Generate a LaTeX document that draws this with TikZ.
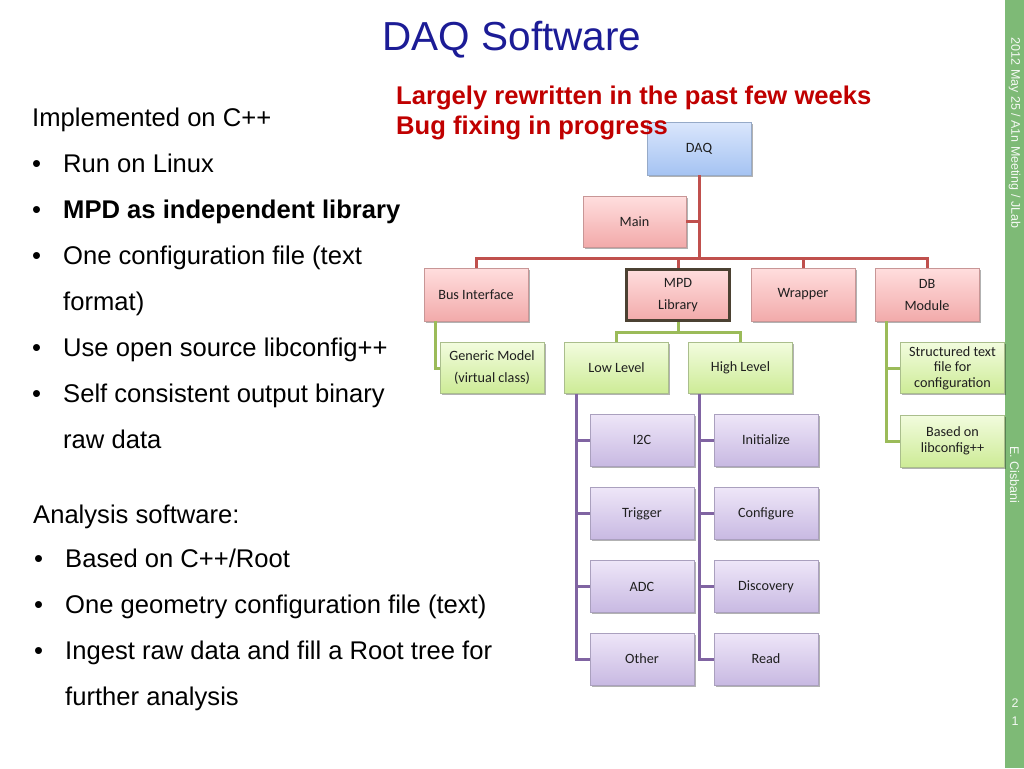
\documentclass[tikz,border=0pt]{standalone}
\usepackage{fontspec}
\setmainfont{Liberation Sans}
\newfontfamily\boxfont{Carlito}
\usetikzlibrary{shadows}
\definecolor{titleblue}{RGB}{28,28,150}
\definecolor{darkred}{RGB}{192,0,0}
\definecolor{sidegreen}{RGB}{126,186,118}
\definecolor{redline}{RGB}{192,80,77}
\definecolor{greenline}{RGB}{155,187,89}
\definecolor{purpleline}{RGB}{128,100,162}
\definecolor{rtop}{RGB}{255,222,222}
\definecolor{rbot}{RGB}{242,170,170}
\definecolor{rdraw}{RGB}{200,150,150}
\definecolor{gtop}{RGB}{242,252,222}
\definecolor{gbot}{RGB}{205,235,150}
\definecolor{gdraw}{RGB}{170,190,140}
\definecolor{ptop}{RGB}{238,230,248}
\definecolor{pbot}{RGB}{200,185,226}
\definecolor{pdraw}{RGB}{170,160,190}
\definecolor{btop}{RGB}{218,230,252}
\definecolor{bbot}{RGB}{165,195,242}
\definecolor{bdraw}{RGB}{150,170,200}
\definecolor{mpddraw}{RGB}{75,65,50}
\tikzset{
  box/.style={rectangle, minimum width=104pt, minimum height=52pt, inner sep=0pt,
    align=center, text=black!88, line width=0.6pt,
    font=\boxfont\fontsize{14.2}{22}\selectfont,
    drop shadow={shadow xshift=1.8pt, shadow yshift=-1.8pt, opacity=0.3, fill=black}},
  redbox/.style={box, top color=rtop, bottom color=rbot, draw=rdraw},
  greenbox/.style={box, top color=gtop, bottom color=gbot, draw=gdraw},
  purplebox/.style={box, top color=ptop, bottom color=pbot, draw=pdraw},
  bluebox/.style={box, top color=btop, bottom color=bbot, draw=bdraw},
  redcon/.style={draw=redline, line width=3pt},
  greencon/.style={draw=greenline, line width=3pt},
  purplecon/.style={draw=purpleline, line width=3pt},
  bodytext/.style={anchor=base west, inner sep=0pt, font=\fontsize{25.6}{30}\selectfont, text=black},
  sidetext/.style={inner sep=0pt, text=white!92!sidegreen, font=\fontsize{12.5}{14}\selectfont}
}
\begin{document}
\begin{tikzpicture}[x=1pt,y=-1pt]
\useasboundingbox (0,0) rectangle (1024,768);
\fill[white] (0,0) rectangle (1024,768);
\fill[sidegreen] (1005,0) rectangle (1024,768);
\node[sidetext, rotate=-90] (side1) at (1014.5,133) {2012 May 25 / A1n Meeting / JLab};
\node[sidetext, rotate=-90] (side2) at (1014.5,475) {E. Cisbani};
\node[sidetext] (pg1) at (1015,703) {2};
\node[sidetext] (pg2) at (1015,721) {1};

% title
\node[anchor=base, inner sep=0pt, text=titleblue, font=\fontsize{40.5}{46}\selectfont] (title) at (512,51) {DAQ Software};

% left text
\node[bodytext] (l0) at (32,126) {Implemented on C++};
\node[bodytext] (b1) at (32,172) {•};
\node[bodytext] (l1) at (63,172) {Run on Linux};
\node[bodytext] (b2) at (32,218) {•};
\node[bodytext] (l2) at (63,218) {\bfseries MPD as independent library};
\node[bodytext] (b3) at (32,264) {•};
\node[bodytext] (l3) at (63,264) {One configuration file (text};
\node[bodytext] (l3b) at (63,310) {format)};
\node[bodytext] (b4) at (32,356) {•};
\node[bodytext] (l4) at (63,356) {Use open source libconfig++};
\node[bodytext] (b5) at (32,402) {•};
\node[bodytext] (l5) at (63,402) {Self consistent output binary};
\node[bodytext] (l5b) at (63,448) {raw data};

\node[bodytext] (a0) at (33,523) {Analysis software:};
\node[bodytext] (c1) at (34,567) {•};
\node[bodytext] (a1) at (65,567) {Based on C++/Root};
\node[bodytext] (c2) at (34,613) {•};
\node[bodytext] (a2) at (65,613) {One geometry configuration file (text)};
\node[bodytext] (c3) at (34,659) {•};
\node[bodytext] (a3) at (65,659) {Ingest raw data and fill a Root tree for};
\node[bodytext] (a3b) at (65,705) {further analysis};

% coordinates for bars
\coordinate (rbar) at (699,258);
\coordinate (gbar) at (678,332);
\coordinate (gx) at (435,0);
\coordinate (dbx) at (886,0);
\coordinate (px1) at (576,0);
\coordinate (px2) at (699,0);

% boxes
\node[bluebox, minimum height=53pt] (daq) at (699,148.5) {DAQ};
\node[redbox, minimum width=103pt, minimum height=51pt] (main) at (634.5,221.5) {Main};
\node[redbox, minimum height=53pt] (bus) at (476,294.5) {Bus Interface};
\node[redbox, minimum width=103pt, minimum height=51pt, draw=mpddraw, line width=3pt] (mpd) at (678,295) {MPD\\Library};
\node[redbox, minimum height=53pt] (wrap) at (803,294.5) {Wrapper};
\node[redbox, minimum height=53pt] (db) at (927,294.5) {DB\\Module};

\node[greenbox, minimum height=51pt] (gen) at (492,368) {Generic Model\\(virtual class)};
\node[greenbox, minimum height=51pt] (low) at (616.5,368) {Low Level};
\node[greenbox, minimum height=51pt] (high) at (740.5,368) {High Level};
\node[greenbox, minimum height=51pt, font=\boxfont\fontsize{14.2}{15.5}\selectfont] (struct) at (952.5,368) {Structured text\\file for\\configuration};
\node[greenbox, font=\boxfont\fontsize{14.2}{16}\selectfont] (based) at (952.5,441) {Based on\\libconfig++};

\node[purplebox] (i2c) at (642,440) {I2C};
\node[purplebox] (trig) at (642,513.5) {Trigger};
\node[purplebox] (adc) at (642,586.5) {ADC};
\node[purplebox] (other) at (642,659) {Other};
\node[purplebox] (init) at (766,440) {Initialize};
\node[purplebox] (conf) at (766,513.5) {Configure};
\node[purplebox] (disc) at (766,586.5) {Discovery};
\node[purplebox] (read) at (766,659) {Read};

% red connectors
\draw[redcon] (daq.south) -- (daq.south |- rbar);
\draw[redcon] (main.east) -- (main.east -| daq.south);
\draw[redcon] (bus.north) |- (rbar) -| (db.north);
\draw[redcon] (mpd.north) -- (mpd.north |- rbar);
\draw[redcon] (wrap.north) -- (wrap.north |- rbar);

% green connectors
\draw[greencon] (mpd.south) -- (mpd.south |- gbar);
\draw[greencon] (low.north) |- (gbar) -| (high.north);
\draw[greencon] (gx |- bus.south) |- (gen.west);
\draw[greencon] (dbx |- db.south) |- (based.west);
\draw[greencon] (dbx |- struct.west) -- (struct.west);

% purple connectors
\draw[purplecon] (px1 |- low.south) |- (other.west);
\draw[purplecon] (px1 |- i2c.west) -- (i2c.west);
\draw[purplecon] (px1 |- trig.west) -- (trig.west);
\draw[purplecon] (px1 |- adc.west) -- (adc.west);
\draw[purplecon] (px2 |- high.south) |- (read.west);
\draw[purplecon] (px2 |- init.west) -- (init.west);
\draw[purplecon] (px2 |- conf.west) -- (conf.west);
\draw[purplecon] (px2 |- disc.west) -- (disc.west);

% red note
\node[anchor=base west, inner sep=0pt, text=darkred, font=\bfseries\fontsize{25.6}{30}\selectfont] (note1) at (396,104) {Largely rewritten in the past few weeks};
\node[anchor=base west, inner sep=0pt, text=darkred, font=\bfseries\fontsize{25.6}{30}\selectfont] (note2) at (396,134) {Bug fixing in progress};
\end{tikzpicture}
\end{document}
